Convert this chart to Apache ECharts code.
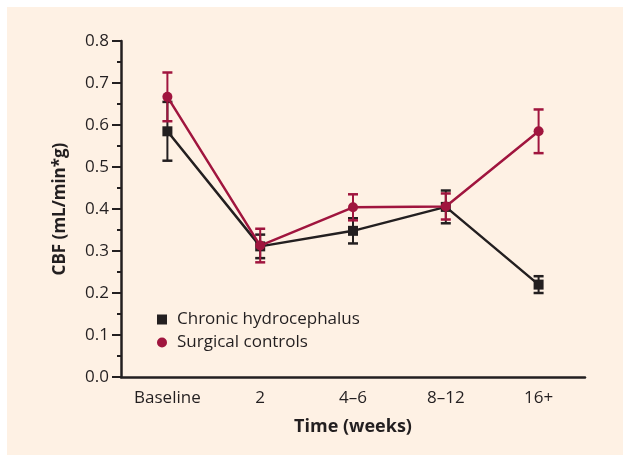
<!DOCTYPE html>
<html>
<head>
<meta charset="utf-8">
<script src="https://cdn.jsdelivr.net/npm/echarts@6/dist/echarts.min.js"></script>
<style>
  html, body { margin: 0; padding: 0; background: #fff; }
  #main { width: 629px; height: 460px; }
</style>
</head>
<body>
<div id="main"></div>
<script>
// categories and values
var times = ['Baseline', '2', '4\u20136', '8\u201312', '16+'];
var hydroMean = [0.585, 0.311, 0.348, 0.405, 0.220];
var hydroErr = [0.070, 0.028, 0.030, 0.039, 0.020];
var ctrlMean = [0.667, 0.313, 0.404, 0.406, 0.585];
var ctrlErr = [0.058, 0.040, 0.031, 0.031, 0.052];

var black = '#231f20';
var red = '#a0153e';
var font = '"Open Sans", "Noto Sans", sans-serif';

var myChart = echarts.init(document.getElementById('main'));

// error bar with caps
function errBars(mean, err, color, z) {
    var d = [];
    for (var i = 0; i < mean.length; i++) {
        d.push([i, mean[i] - err[i], mean[i] + err[i]]);
    }
    return {
        type: 'custom',
        data: d,
        z: z,
        silent: true,
        renderItem: function (params, api) {
            var lo = api.coord([api.value(0), api.value(1)]);
            var hi = api.coord([api.value(0), api.value(2)]);
            var w = 5;
            var st = { stroke: color, lineWidth: 2 };
            return {
                type: 'group',
                children: [
                    { type: 'line', shape: { x1: lo[0], y1: lo[1], x2: hi[0], y2: hi[1] }, style: st },
                    { type: 'line', shape: { x1: lo[0] - w, y1: lo[1], x2: lo[0] + w, y2: lo[1] }, style: { stroke: color, lineWidth: 2.5 } },
                    { type: 'line', shape: { x1: hi[0] - w, y1: hi[1], x2: hi[0] + w, y2: hi[1] }, style: { stroke: color, lineWidth: 2.5 } }
                ]
            };
        }
    };
}

var option = {
    backgroundColor: '#ffffff',
    animation: false,
    graphic: [{
        type: 'rect',
        z: -10,
        shape: { x: 7, y: 7, width: 616, height: 448 },
        style: { fill: '#fef1e4' }
    }],
    grid: { left: 121, right: 44, top: 41, bottom: 83 },
    legend: {
        orient: 'vertical',
        left: 152,
        top: 306,
        itemGap: 6,
        itemWidth: 10,
        itemHeight: 10,
        textStyle: { fontFamily: font, fontSize: 17, color: black, padding: [0, 0, 0, 5] },
        data: [
            { name: 'Chronic hydrocephalus', icon: 'rect' },
            { name: 'Surgical controls', icon: 'circle' }
        ]
    },
    xAxis: {
        type: 'category',
        data: times,
        boundaryGap: true,
        name: 'Time (weeks)',
        nameLocation: 'middle',
        nameGap: 41,
        nameTextStyle: { fontFamily: font, fontSize: 18, fontWeight: 'bold', color: black },
        axisLine: { lineStyle: { color: black, width: 2.5 } },
        axisTick: { alignWithLabel: true, length: 7, lineStyle: { color: black, width: 2 } },
        axisLabel: { fontFamily: font, fontSize: 17, color: black, margin: 13 }
    },
    yAxis: {
        type: 'value',
        min: 0,
        max: 0.8,
        interval: 0.1,
        name: 'CBF (mL/min*g)',
        nameLocation: 'middle',
        nameGap: 52,
        nameTextStyle: { fontFamily: font, fontSize: 17, fontWeight: 'bold', color: black },
        axisLine: { show: true, lineStyle: { color: black, width: 2.5 } },
        axisTick: { show: true, length: 9, lineStyle: { color: black, width: 2 } },
        minorTick: { show: true, splitNumber: 2, length: 4, lineStyle: { color: black, width: 2 } },
        splitLine: { show: false },
        axisLabel: {
            fontFamily: font, fontSize: 17, color: black, margin: 12,
            formatter: function (v) { return v.toFixed(1); }
        }
    },
    series: [
        {
            name: 'Chronic hydrocephalus',
            type: 'line',
            data: hydroMean,
            symbol: 'rect',
            symbolSize: 10,
            z: 3,
            itemStyle: { color: black },
            lineStyle: { color: black, width: 2.5 }
        },
        errBars(hydroMean, hydroErr, black, 2),
        {
            name: 'Surgical controls',
            type: 'line',
            data: ctrlMean,
            symbol: 'circle',
            symbolSize: 10,
            z: 5,
            itemStyle: { color: red },
            lineStyle: { color: red, width: 2.5 }
        },
        errBars(ctrlMean, ctrlErr, red, 4)
    ]
};

myChart.setOption(option);
</script>
</body>
</html>
